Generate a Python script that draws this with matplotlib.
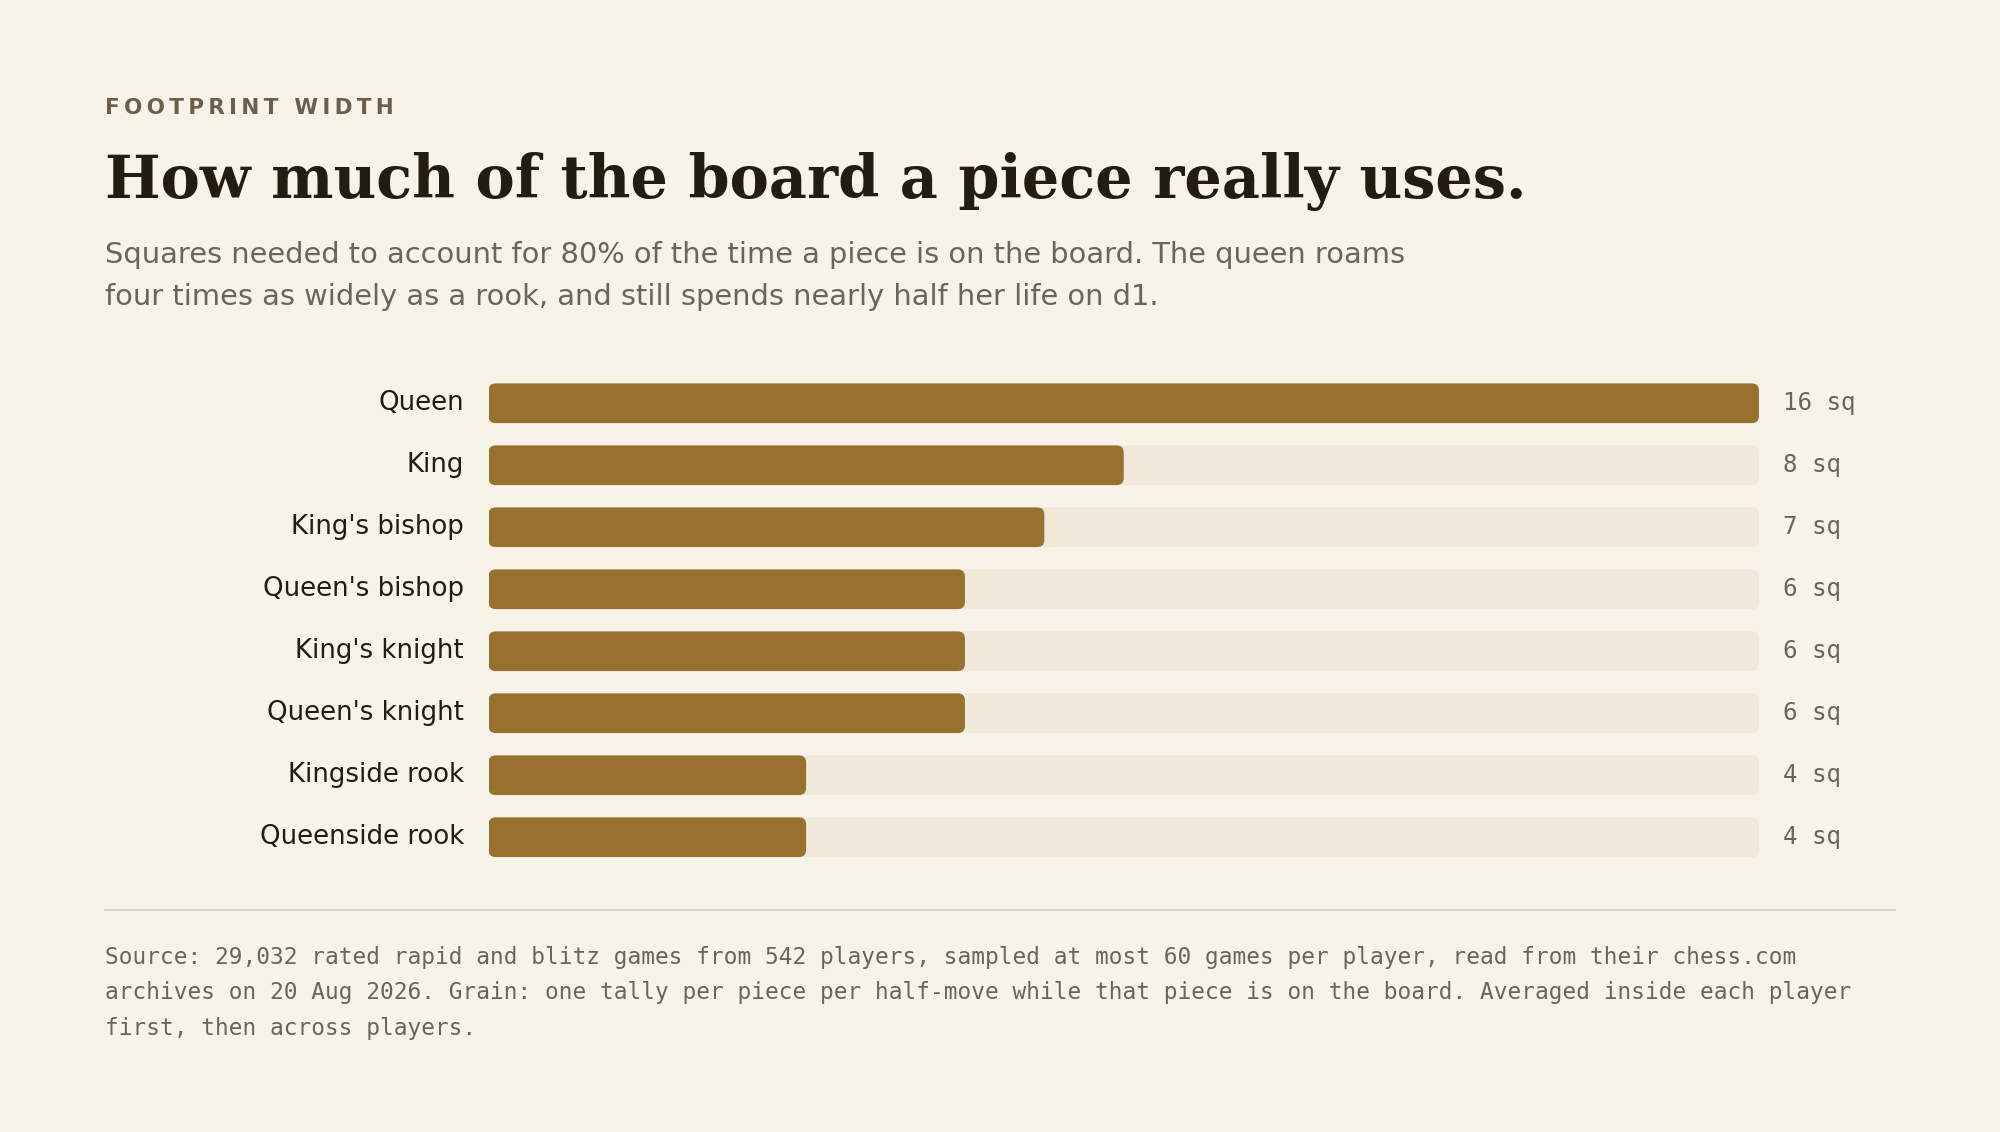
import matplotlib
matplotlib.use("Agg")
import matplotlib.pyplot as plt
from matplotlib.patches import FancyBboxPatch

pieces = ["Queen", "King", "King's bishop", "Queen's bishop", "King's knight",
          "Queen's knight", "Kingside rook", "Queenside rook"]
squares = [16, 8, 7, 6, 6, 6, 4, 4]
max_sq = 16

BG = "#F8F3E8"; BAR = "#98712F"; TRACK = "#F0E8D8"
DARK = "#231C10"; GREY = "#6B6458"

fig = plt.figure(figsize=(20, 11.32), dpi=100, facecolor=BG)
W, H = 1568, 887
fx = lambda x: x / W
fy = lambda y: 1 - y / H

eyebrow = "\u200a\u200a".join("FOOTPRINT WIDTH")
fig.text(fx(82), fy(89), eyebrow, fontsize=15.5,
         fontweight="bold", color="#6B5E4A", family="DejaVu Sans")
fig.text(fx(82), fy(155), "How much of the board a piece really uses.", fontsize=42.4,
         fontweight="bold", color=DARK, family="DejaVu Serif")
fig.text(fx(82), fy(206), "Squares needed to account for 80% of the time a piece is on the board. The queen roams",
         fontsize=20.8, color=GREY)
fig.text(fx(82), fy(239), "four times as widely as a rook, and still spends nearly half her life on d1.",
         fontsize=20.8, color=GREY)

ax = fig.add_axes([fx(383), fy(680.3), fx(1379) - fx(383), fy(291.7) - fy(680.3)])
ax.set_facecolor(BG)
ax.set_xlim(0, max_sq); ax.set_ylim(len(pieces) - 0.5, -0.5)
ax.axis("off")
h = 0.64
asp = (1 / 48.57) / (max_sq / 996)
for i, (p, v) in enumerate(zip(pieces, squares)):
    for w, c in ((max_sq, TRACK), (v, BAR)):
        ax.add_patch(FancyBboxPatch((0, i - h / 2), w, h,
                     boxstyle="round,pad=0,rounding_size=0.09", mutation_aspect=asp,
                     facecolor=c, edgecolor="none"))
    ax.text(-0.31, i, p, ha="right", va="center", fontsize=18.7, color=DARK)
    ax.text(max_sq + 0.3, i, f"{v} sq", ha="left", va="center", fontsize=17.4,
            color=GREY, family="DejaVu Sans Mono")

fig.add_artist(plt.Line2D([fx(82), fx(1486)], [fy(713), fy(713)], color="#D8D0C0", lw=1.3))
foot = ["Source: 29,032 rated rapid and blitz games from 542 players, sampled at most 60 games per player, read from their chess.com",
        "archives on 20 Aug 2026. Grain: one tally per piece per half-move while that piece is on the board. Averaged inside each player",
        "first, then across players."]
for k, line in enumerate(foot):
    fig.text(fx(82), fy(755 + 28 * k), line, fontsize=16.4, color=GREY, family="DejaVu Sans Mono")

fig.savefig("out.png", dpi=100, facecolor=BG)
